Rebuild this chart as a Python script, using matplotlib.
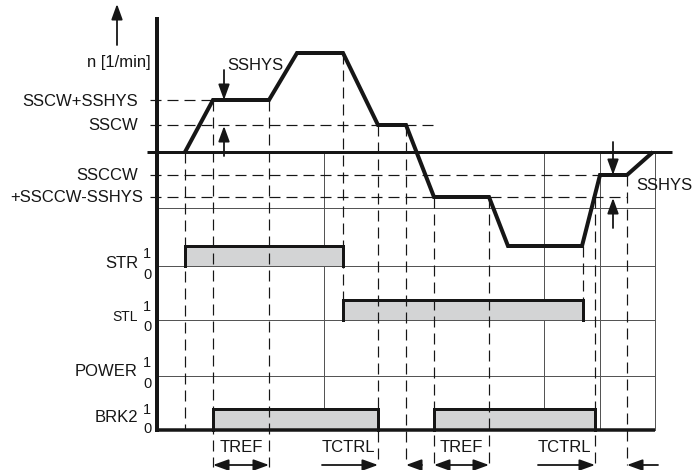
import matplotlib
matplotlib.use("Agg")
import matplotlib.pyplot as plt
from matplotlib.patches import Rectangle

plt.rcParams['font.family'] = ['Liberation Sans', 'DejaVu Sans']
plt.rcParams['lines.scale_dashes'] = False

# ---------------- data (time in diagram units, speed in level units) ----------------
speed_time = [185, 213, 269, 297, 343, 378, 406, 434, 489, 508, 582, 600, 627, 653]
speed_value = [0, 52, 52, 99, 99, 27, 27, -45, -45, -94, -94, -23, -23, 0]

level_names = ["SSCW+SSHYS", "SSCW", "SSCCW", "+SSCCW-SSHYS"]
level_values = [52, 27, -23, -45]
level_dash_end = [213, 437, 600, 627]

signal_names = ["STR", "STL", "POWER", "BRK2"]
signal_pulses = [[(185, 343)], [(343, 583)], [], [(213, 378), (434, 595)]]

# event markers: (time, start y, end y)
event_times = [185, 213, 269, 343, 378, 406, 434, 489, 583, 595, 627]
event_top = [152, 100, 100, 53, 125, 125, 197, 197, 246, 197, 175]
event_bottom = [430, 467, 467, 300, 465, 465, 465, 465, 300, 465, 465]

interval_labels = ["TREF", "TCTRL", "TREF", "TCTRL"]
interval_start = [213, 322, 434, 538]
interval_end = [269, 378, 489, 595]
interval_kind = ["both", "right", "both", "right"]
left_arrow_time = [406, 627]

# ---------------- layout ----------------
W, H = 698, 470
Y0 = 152                       # pixel row of speed zero
AX_X, AX_TOP, AX_BOT = 157, 17, 432
RIGHT = 655
row_low = [266, 320, 376, 430]
row_high = [246, 300, 356, 409]
grid_h = [208, 266, 320, 376]
grid_v = [324, 544, 600, 655]

PX = 72 / 100
INK = '#161616'
GRID = '#555555'
DASH = (0, (11 * PX, 6 * PX))
FS = 12

fig = plt.figure(figsize=(W / 100, H / 100), dpi=100)
ax = fig.add_axes([0, 0, 1, 1])
ax.set_xlim(0, W)
ax.set_ylim(H, 0)
ax.axis('off')
ax_s = fig.add_axes([0, 0, 1, 1], sharex=ax)
ax_s.set_ylim(Y0 - H, Y0)
ax_s.axis('off')
ax_s.patch.set_alpha(0)

# thin grid
for y in grid_h:
    ax.plot([AX_X, RIGHT], [y, y], color=GRID, lw=1.0 * PX, zorder=1)
for x in grid_v:
    ax.plot([x, x], [Y0, 430], color=GRID, lw=1.0 * PX, zorder=1)

# level dashed lines + labels
for name, v, xe in zip(level_names, level_values, level_dash_end):
    ax_s.plot([150, xe], [v, v], color=INK, lw=1.2 * PX, linestyle=DASH, zorder=2)
    xr = 143 if name.startswith('+') else 138
    ax_s.text(xr, v - 1, name, ha='right', va='center', fontsize=FS, color=INK)

# event dashed verticals
for x, yt, yb in zip(event_times, event_top, event_bottom):
    ax.plot([x, x], [yt, yb], color=INK, lw=1.2 * PX, linestyle=DASH, zorder=2)

# signal pulses
for name, pulses, lo, hi in zip(signal_names, signal_pulses, row_low, row_high):
    for (a, b) in pulses:
        ax.add_patch(Rectangle((a, hi), b - a, lo - hi, facecolor='#d3d4d5',
                               edgecolor='none', zorder=1.5))
        ax.plot([a, a, b, b], [lo, hi, hi, lo], color=INK, lw=3 * PX,
                solid_joinstyle='miter', zorder=3)

# signal labels
sig_label_y = [263, 317, 372, 418]
sig_one_y = [254, 307, 363, 410]
sig_zero_y = [275, 327, 384, 429]
sig_size = [FS, 10, FS, FS]
for name, ty, oy, zy, fs in zip(signal_names, sig_label_y, sig_one_y, sig_zero_y, sig_size):
    ax.text(138, ty, name, ha='right', va='center', fontsize=fs, color=INK)
    ax.text(147, oy, '1', ha='center', va='center', fontsize=10.5, color=INK)
    ax.text(147, zy, '0', ha='center', va='center', fontsize=10.5, color=INK)

# main axes lines
ax.plot([AX_X, AX_X], [AX_TOP, AX_BOT], color=INK, lw=4 * PX, solid_capstyle='butt', zorder=4)
ax.plot([147, 672], [Y0, Y0], color=INK, lw=3 * PX, solid_capstyle='butt', zorder=4)
ax.plot([AX_X, RIGHT], [430, 430], color=INK, lw=3.5 * PX, solid_capstyle='butt', zorder=4)

# speed profile
ax_s.plot(speed_time, speed_value, color=INK, lw=4 * PX, solid_joinstyle='miter',
          solid_capstyle='butt', zorder=5)

def arrow(x0, y0, x1, y1, style='-|>'):
    ax.annotate('', xy=(x1, y1), xytext=(x0, y0),
                arrowprops=dict(arrowstyle=style + ',head_length=0.55,head_width=0.2',
                                color=INK, lw=1.8 * PX, mutation_scale=17,
                                shrinkA=0, shrinkB=0), zorder=6)

# y-axis arrow & label
arrow(117, 45, 117, 4)
ax.text(151, 62, 'n [1/min]', ha='right', va='center', fontsize=FS, color=INK)

# hysteresis arrows
arrow(224, 70, 224, 100)
arrow(224, 156, 224, 126)
ax.text(227, 66, 'SSHYS', ha='left', va='center', fontsize=FS, color=INK)
arrow(613, 142, 613, 175)
arrow(613, 228, 613, 198)
ax.text(636, 185, 'SSHYS', ha='left', va='center', fontsize=FS, color=INK)

# interval annotations
for lab, a, b, kind in zip(interval_labels, interval_start, interval_end, interval_kind):
    if kind == 'both':
        arrow(a, 465, b, 465, '<|-|>')
        ax.text((a + b) / 2, 447, lab, ha='center', va='center', fontsize=FS, color=INK)
    else:
        arrow(a, 465, b, 465, '-|>')
        ax.text(a + 26, 448, lab, ha='center', va='center', fontsize=FS, color=INK)
for x in left_arrow_time:
    arrow(x + 31 if x > 600 else x + 16, 465, x, 465)

fig.savefig('out.png', dpi=100)
